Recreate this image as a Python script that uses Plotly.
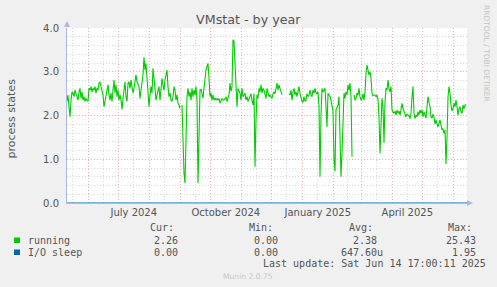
import plotly.graph_objects as go
import pandas as pd

# ---------------- data ----------------
END = pd.Timestamp("2025-06-14 17:00:11")
START = END - pd.Timedelta(days=400)

# daily "running" process counts (None = no data)
running = [
    2.32, 2.47, 2.20, 1.97, 2.35, 2.54, 2.50, 2.43, 2.58, 2.51,
    2.39, 2.35, 2.54, 2.62, 2.39, 2.54, 2.35, 2.43, 2.32, 2.39,
    2.35, 2.32, 2.62, 2.58, 2.66, 2.54, 2.62, 2.58, 2.66, 2.51,
    2.62, 2.58, 2.74, 2.77, 2.66, 2.51, 2.47, 2.20, 2.35, 2.51,
    2.66, 2.70, 2.47, 2.35, 2.51, 2.32, 2.58, 2.81, 2.51, 2.70,
    2.43, 2.58, 2.35, 2.47, 2.35, 2.14, 2.39, 2.62, 2.77, 2.43,
    2.32, 2.74, 2.77, 2.62, 2.81, 2.66, 2.51, 2.62, 2.80, 2.93,
    2.77, 2.70, 2.66, 2.39, 2.54, 2.74, 2.93, 3.33, 3.04, 3.19,
    2.89, 2.66, 2.20, 2.47, 2.66, 2.51, 3.08, 2.85, 2.54, 2.35,
    2.47, 2.58, 2.66, 2.35, 2.54, 2.85, 2.70, 2.58, 2.81, 2.96,
    3.04, 2.66, 2.43, 2.51, 2.35, 2.32, 2.43, 2.66, 2.58, 2.35,
    2.47, 2.28, 2.24, 2.16, None, 2.24, 1.10, 0.68, 0.45, 1.50,
    2.43, 2.62, 2.43, 2.54, 2.35, 2.62, 2.43, 2.58, 2.47, 2.66,
    2.35, 0.45, 1.50, 2.58, 2.60, 2.50, 2.40, 2.62, 2.85, 3.04,
    3.12, 3.19, 2.85, 2.43, 2.51, 2.35, 2.47, 2.35, 2.40, 2.35,
    2.39, 2.35, 2.39, 2.28, 2.33, 2.39, 2.35, 2.35, 2.39, 2.43,
    2.32, 2.43, 2.47, 2.74, 2.55, 2.66, 3.73, 3.70, 3.10, 2.89,
    2.20, 2.62, 2.54, 2.51, 2.35, 2.62, 2.43, 2.47, 2.51, 2.35,
    2.43, 2.32, 2.39, 2.43, 2.50, 2.35, 2.24, 2.50, 0.83, 1.90,
    2.47, 2.39, 2.62, 2.54, 2.70, 2.51, 2.62, 2.58, 2.47, 2.39,
    2.62, 2.47, 2.43, 2.47, 2.43, 2.39, 2.50, 2.54, 2.50, 2.66,
    2.74, 2.58, 2.70, 2.62, 2.50, 2.47, None, None, None, None,
    None, None, 2.50, 2.47, 2.58, 2.35, 2.54, 2.62, 2.47, 2.54,
    2.43, 2.58, 2.66, 2.50, 2.41, 2.32, 2.30, 2.43, 2.32, 2.35,
    2.50, 2.43, 2.47, 2.58, 2.47, 2.43, 2.58, 2.51, 2.62, 2.51,
    2.50, 2.54, 2.20, 0.60, 2.00, 2.62, 2.54, 2.58, 2.62, 2.20,
    1.74, 2.51, 2.47, 2.43, 2.35, 2.16, 2.10, 0.98, 0.72, 2.13,
    2.20, 2.24, 2.43, 1.44, 0.60, 1.13, 1.90, 2.51, 2.39, 2.54,
    2.47, 2.70, 2.58, 2.74, 2.43, 1.06, None, 2.47, 2.35, 2.39,
    2.51, 2.47, 2.62, 2.43, 2.35, 2.39, 2.50, 2.35, 2.54, 2.96,
    3.15, 3.04, 2.93, 3.00, 2.85, 2.51, 2.45, 2.47, 2.47, 2.43,
    2.47, 2.35, 1.97, 1.13, 2.10, 2.39, 2.20, 1.38, 2.30, 2.62,
    2.58, 2.81, 2.62, 2.54, 2.66, 2.13, 2.08, 2.05, 2.10, 2.01,
    2.13, 2.05, 2.10, 2.01, 2.13, 2.28, 2.16, 2.08, 2.05, 1.97,
    2.03, 2.00, 1.99, 1.93, 2.05, 2.43, 2.66, 2.05, 1.93, 2.01,
    1.97, 2.09, 2.01, 2.13, 2.05, 2.13, 1.97, 2.09, 2.01, 1.94,
    2.20, 2.43, 2.30, 2.20, 1.97, 1.94, 2.03, 1.97, 1.80, 1.90,
    1.82, 1.74, 1.82, 1.90, 1.78, 1.67, 1.70, 1.59, 1.67, 0.89,
    1.50, 2.43, 2.66, 2.51, 2.24, 2.10, 2.16, 2.28, 2.20, 2.35,
    2.20, 2.01, 2.16, 2.20, 2.08, 2.05, 2.24, 2.16, 2.24, 2.26,
]
running_dates = pd.date_range(START, periods=len(running), freq="D")

# I/O sleep stays at zero over the whole period
io_dates = [START, END]
io_sleep = [0.0, 0.0]

series_names = ["running", "I/O sleep"]
series_colors = ["#00cc00", "#0066b3"]
cur_vals = ["2.26", "0.00"]
min_vals = ["0.00", "0.00"]
avg_vals = ["2.38", "647.60u"]
max_vals = ["25.43", "1.95"]

label_months = ["2024-07", "2024-10", "2025-01", "2025-04"]

title_text = "VMstat - by year"
y_title = "process states"
last_update = "Last update: Sat Jun 14 17:00:11 2025"
footer = "Munin 2.0.75"
side_text = "RRDTOOL / TOBI OETIKER"

# ---------------- layout helpers ----------------
W, H = 497, 287
L, R, T, B = 67, 467, 28, 203


def px(x):
    return (x - L) / (R - L)


def py(y):
    return (B - y) / (B - T)


month_starts = pd.date_range(START.normalize() + pd.offsets.MonthBegin(1), END, freq="MS")
all_starts = pd.date_range(START.normalize() - pd.offsets.MonthBegin(1), END, freq="MS")
mids = []
mid_text = []
for ms in all_starts:
    me = ms + pd.offsets.MonthBegin(1)
    mid = ms + (me - ms) / 2
    if START <= mid <= END:
        mids.append(mid)
        key = ms.strftime("%Y-%m")
        mid_text.append(ms.strftime("%B %Y") if key in label_months else "")

GRID_MINOR = "#d8d8d8"
GRID_MAJOR = "rgba(232,140,140,0.7)"
AXIS = "#aeb6e8"
TXT = "#555555"
DOT = "1px,2px"

fig = go.Figure()
fig.add_trace(go.Scatter(x=io_dates, y=io_sleep, mode="lines",
                         line=dict(color=series_colors[1], width=1),
                         showlegend=False, hoverinfo="skip"))
fig.add_trace(go.Scatter(x=running_dates, y=running, mode="lines",
                         line=dict(color=series_colors[0], width=1.1),
                         connectgaps=False, showlegend=False))

fig.update_layout(
    width=W, height=H,
    margin=dict(l=L, r=W - R, t=T, b=H - B, pad=0),
    paper_bgcolor="#f0f0f0",
    plot_bgcolor="#ffffff",
    font=dict(family="DejaVu Sans", size=10, color=TXT),
    showlegend=False,
)
fig.update_xaxes(
    range=[START, END],
    tickmode="array", tickvals=mids, ticktext=mid_text,
    showgrid=True, gridcolor=GRID_MINOR, griddash=DOT, gridwidth=1,
    minor=dict(tickmode="array", tickvals=list(month_starts), showgrid=True,
               gridcolor=GRID_MAJOR, griddash=DOT, gridwidth=1, ticks=""),
    showline=True, linecolor=AXIS, linewidth=1, zeroline=False,
    ticks="", tickfont=dict(size=10, color=TXT),
)
fig.update_yaxes(
    range=[0, 4],
    tickmode="linear", tick0=0, dtick=1, tickformat=".1f",
    showgrid=True, gridcolor=GRID_MAJOR, griddash=DOT, gridwidth=1,
    minor=dict(tickmode="linear", tick0=0, dtick=0.2, showgrid=True,
               gridcolor=GRID_MINOR, griddash=DOT, gridwidth=1, ticks=""),
    showline=True, linecolor=AXIS, linewidth=1, zeroline=False,
    ticks="", tickfont=dict(size=10, color=TXT), ticklabelstandoff=5,
)

shapes = [
    dict(type="path", xref="paper", yref="paper",
         path=f"M {px(64)},{py(27)} L {px(67)},{py(21)} L {px(70)},{py(27)} Z",
         fillcolor=AXIS, line=dict(width=0)),
    dict(type="path", xref="paper", yref="paper",
         path=f"M {px(467)},{py(200)} L {px(473)},{py(203)} L {px(467)},{py(206)} Z",
         fillcolor=AXIS, line=dict(width=0)),
]
row_y = [240, 252]
for k in range(len(series_names)):
    shapes.append(dict(type="rect", xref="paper", yref="paper",
                       x0=px(14), x1=px(20), y0=py(row_y[k] + 3), y1=py(row_y[k] - 2.5),
                       fillcolor=series_colors[k], line=dict(width=0)))
fig.update_layout(shapes=shapes)

MONO = dict(family="DejaVu Sans Mono", size=10, color=TXT)
ann = []


def text(x, y, s, font, xanchor="left", **kw):
    ann.append(dict(x=px(x), y=py(y), xref="paper", yref="paper", text=s,
                    showarrow=False, xanchor=xanchor, yanchor="middle",
                    font=font, borderpad=0, **kw))


text(248.5, 19, title_text, dict(family="DejaVu Sans", size=12.7, color=TXT), "center")
text(11.5, 118, y_title, dict(family="DejaVu Sans", size=11, color=TXT), "center", textangle=-90)
text(487, 53, side_text, dict(family="DejaVu Sans", size=7.5, color="#c4c4c4"), "center", textangle=90)

text(149, 227, "Cur:", MONO)
text(247.7, 227, "Min:", MONO)
text(347.7, 227, "Avg:", MONO)
text(446.7, 227, "Max:", MONO)
for k in range(len(series_names)):
    yk = row_y[k]
    text(26.7, yk, series_names[k], MONO)
    text(179, yk, cur_vals[k], MONO, "right")
    text(278.5, yk, min_vals[k], MONO, "right")
    text(377.5 + (6 if avg_vals[k][-1].isalpha() else 0), yk, avg_vals[k], MONO, "right")
    text(476.7, yk, max_vals[k], MONO, "right")
text(261.7, 263.5, last_update, MONO)
text(248, 276, footer, dict(family="DejaVu Sans", size=7.6, color="#c8c8c8"), "center")

fig.update_layout(annotations=ann)
fig.write_html("out.html")
